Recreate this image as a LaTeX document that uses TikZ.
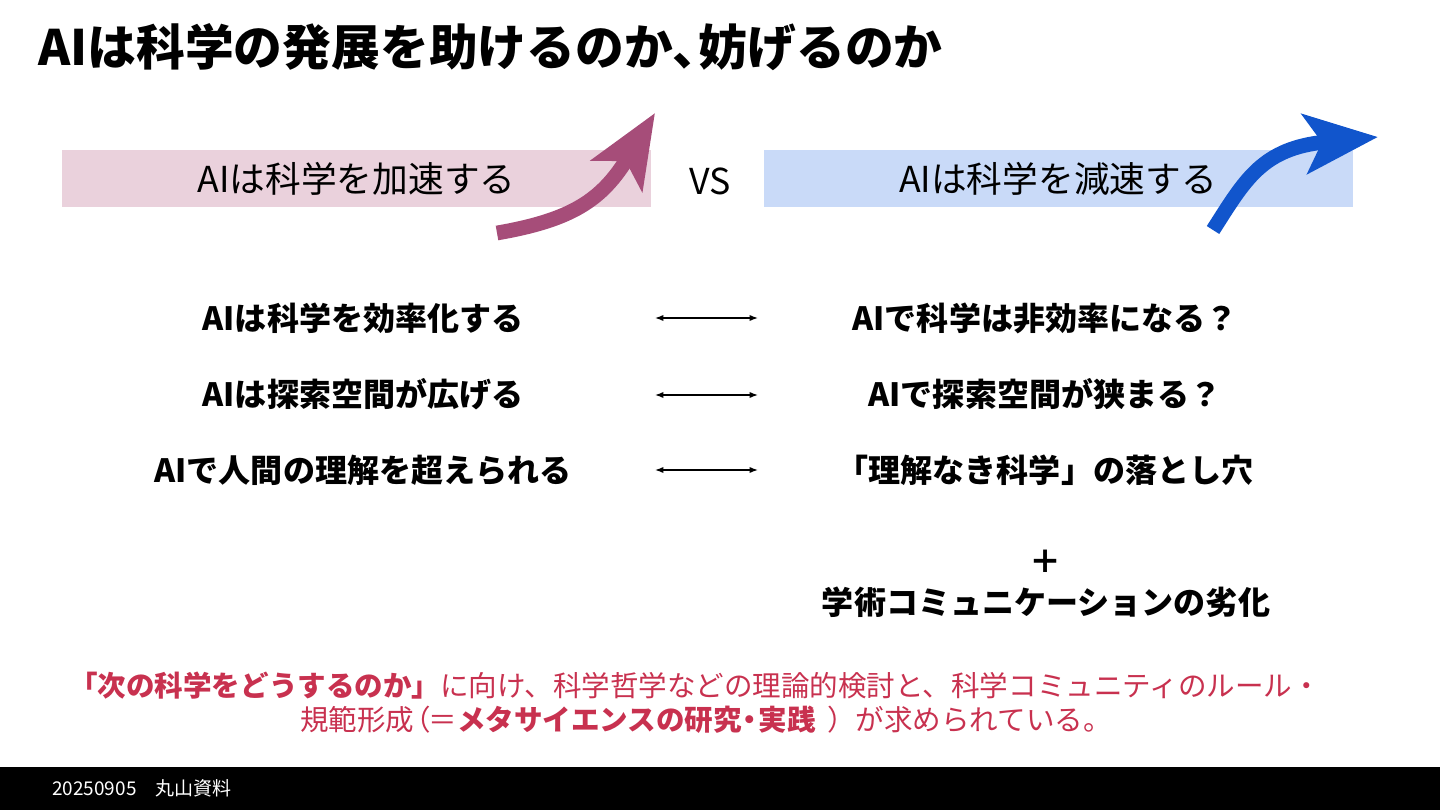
\documentclass[tikz,border=0pt]{standalone}
\usepackage{fontspec}
\setmainfont{Noto Sans CJK JP}
\usetikzlibrary{arrows.meta}
\definecolor{pinkbox}{HTML}{EAD1DC}
\definecolor{bluebox}{HTML}{C9DAF8}
\definecolor{pinkarrow}{HTML}{A64D79}
\definecolor{bluearrow}{HTML}{1155CC}
\definecolor{crimson}{HTML}{C8314F}
\begin{document}
\begin{tikzpicture}[x=0.25mm, y=-0.25mm, inner sep=0pt,
    title/.style = {anchor=west, font=\fontsize{34.7}{40}\selectfont\bfseries},
    band/.style = {minimum width=589*0.25mm, minimum height=57*0.25mm, font=\fontsize{25.4}{30}\selectfont},
    row/.style = {font=\fontsize{22.8}{27}\selectfont\bfseries},
    note/.style = {text=crimson, font=\fontsize{20.3}{24.5}\selectfont},
    pair/.style = {{Latex[length=6pt,width=4.5pt]}-{Latex[length=6pt,width=4.5pt]}, line width=1pt},
    swoop/.style = {line width=10.5pt, -{Stealth[length=52pt,width=42pt,inset=12pt]}}]

    \useasboundingbox (0,0) rectangle (1440,810);

    \node [title] (head) at (38,47) {AIは科学の発展を助けるのか、\kern-0.45em 妨げるのか};

    \node [band, fill=pinkbox] (speed) at (356.5,178.5) {AIは科学を加速する};
    \node [band, fill=bluebox] (slow) at (1058,178.5) {AIは科学を減速する};
    \node [font=\fontsize{25.4}{30}\selectfont] (vs) at (710,181) {VS};

    \coordinate (up0) at (497,233);
    \coordinate (up1) at (655,113);
    \coordinate (dn0) at (1213,230);
    \coordinate (dn1) at (1378,137);
    \draw [swoop, pinkarrow] (up0) .. controls (572,220) and (602,200) .. (up1);
    \draw [swoop, bluearrow] (dn0) .. controls (1245,180) and (1262,148) .. (dn1);

    \node [row] (l1) at (363,318) {AIは科学を効率化する};
    \node [row] (l2) at (363,394) {AIは探索空間が広げる};
    \node [row] (l3) at (363,470) {AIで人間の理解を超えられる};
    \node [row] (r1) at (1045,318) {AIで科学は非効率になる？};
    \node [row] (r2) at (1045,394) {AIで探索空間が狭まる？};
    \node [row] (r3) at (1045,470) {「理解なき科学」の落とし穴};

    \foreach \i/\y in {1/318, 2/395, 3/470} {
        \coordinate (a\i) at (655,\y);
        \coordinate (b\i) at (758,\y);
        \draw [pair] (a\i) -- (b\i);
    }

    \node [row] (plus) at (1046,562) {＋};
    \node [row] (decay) at (1046,602) {学術コミュニケーションの劣化};

    % closing call, two lines
    \node [note] (call1) at (695,686)
        {\textbf{「次の科学をどうするのか」}に向け、科学哲学などの理論的検討と、科学コミュニティのルール・};
    \node [note] (call2) at (706,720)
        {規範形成\kern-0.4em（\kern-0.1em＝\textbf{メタサイエンスの研究\kern-0.2em・\kern-0.2em実践}\hspace{0.4em}）が求められている。};

    \fill [black] (0,767) rectangle (1440,810);
    \node [anchor=west, text=white, font=\fontsize{13.5}{16}\selectfont] (foot) at (52,788) {20250905　丸山資料};

\end{tikzpicture}
\end{document}
